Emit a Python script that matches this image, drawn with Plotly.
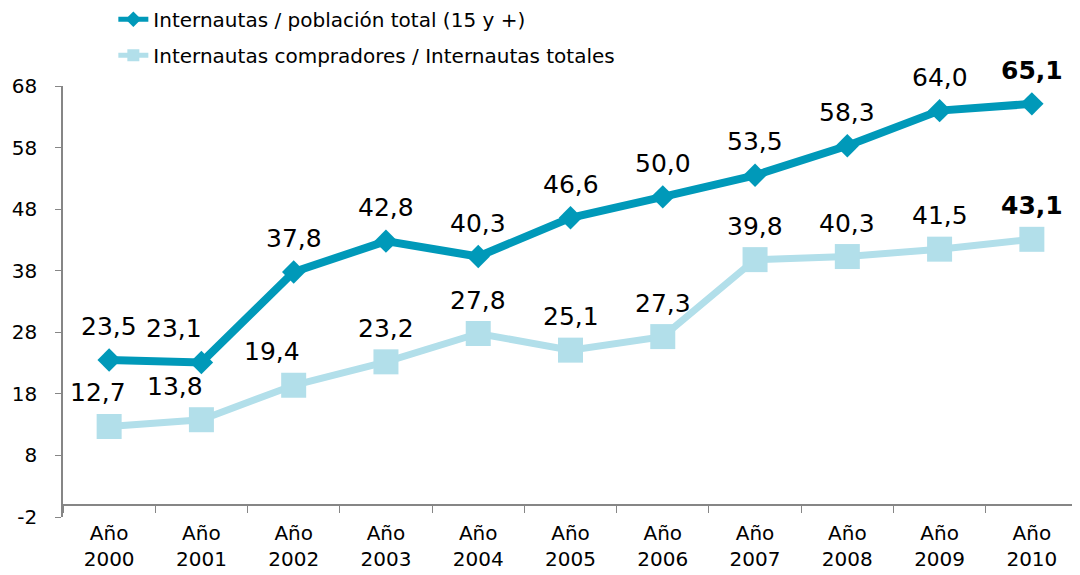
import plotly.graph_objects as go

years = ["2000", "2001", "2002", "2003", "2004", "2005", "2006", "2007", "2008", "2009", "2010"]
categories = ["Año<br>" + y for y in years]
serie_total = [23.5, 23.1, 37.8, 42.8, 40.3, 46.6, 50.0, 53.5, 58.3, 64.0, 65.1]
serie_compradores = [12.7, 13.8, 19.4, 23.2, 27.8, 25.1, 27.3, 39.8, 40.3, 41.5, 43.1]
name_total = "Internautas / población total (15 y +)"
name_compradores = "Internautas compradores / Internautas totales"
y_ticks = [-2, 8, 18, 28, 38, 48, 58, 68]

# label horizontal shifts (style only)
shift_total = [0, -27, 0, 0, 0, 0, 0, 0, 0, 0, 0]
shift_compradores = [-11, -26, -22, 0, 0, 0, 0, 0, 0, 0, 0]

dark = "#0099B9"
light = "#B2DFEA"
FONT = "DejaVu Sans"

fig = go.Figure()
fig.add_trace(go.Scatter(
    x=categories, y=serie_total, name=name_total, mode="lines+markers",
    line=dict(color=dark, width=8), marker=dict(symbol="diamond", size=18, color=dark),
    legendgroup="a",
))
fig.add_trace(go.Scatter(
    x=categories, y=serie_compradores, name=name_compradores, mode="lines+markers",
    line=dict(color=light, width=7), marker=dict(symbol="square", size=25, color=light),
    legendgroup="b",
))

def fmt(v):
    return f"{v:.1f}".replace(".", ",")

annotations = []
for vals, shifts in ((serie_total, shift_total), (serie_compradores, shift_compradores)):
    n = len(vals)
    for i, (c, v) in enumerate(zip(categories, vals)):
        txt = fmt(v)
        if i == n - 1:
            txt = "<b>" + txt + "</b>"
        annotations.append(dict(
            x=c, y=v, xref="x", yref="y", text=txt, showarrow=False,
            xanchor="center", yanchor="bottom", xshift=shifts[i], yshift=17,
            font=dict(family=FONT, size=25, color="#000000"),
        ))

# page body has an 8px margin, so the figure is sized 1072x567
fig.update_layout(
    template="none",
    width=1072, height=567,
    margin=dict(l=55, r=2, t=78, b=58, autoexpand=False),
    paper_bgcolor="white", plot_bgcolor="white",
    font=dict(family=FONT, color="#000000"),
    showlegend=True,
    legend=dict(x=0.0496, xanchor="left", y=1.2, yanchor="top",
                font=dict(family=FONT, size=20), traceorder="grouped",
                tracegroupgap=7, bgcolor="rgba(0,0,0,0)", itemsizing="constant"),
    annotations=annotations,
    xaxis=dict(
        type="category", anchor="free", position=2 / 70, automargin=False,
        range=[-0.5, len(categories) - 0.5], autorange=False,
        showline=True, linecolor="#868686", linewidth=1.5,
        ticks="outside", tickson="boundaries", ticklen=8, tickcolor="#868686",
        tickfont=dict(family=FONT, size=20), ticklabelstandoff=11,
        showgrid=False, zeroline=False,
    ),
    yaxis=dict(
        range=[-2, 68], autorange=False, automargin=False,
        tickvals=y_ticks, ticktext=[str(t) for t in y_ticks],
        showline=True, linecolor="#868686", linewidth=1.5,
        ticks="outside", ticklen=6, tickcolor="#868686",
        tickfont=dict(family=FONT, size=20), ticklabelstandoff=14,
        showgrid=False, zeroline=False,
    ),
)

fig.write_html("out.html")
